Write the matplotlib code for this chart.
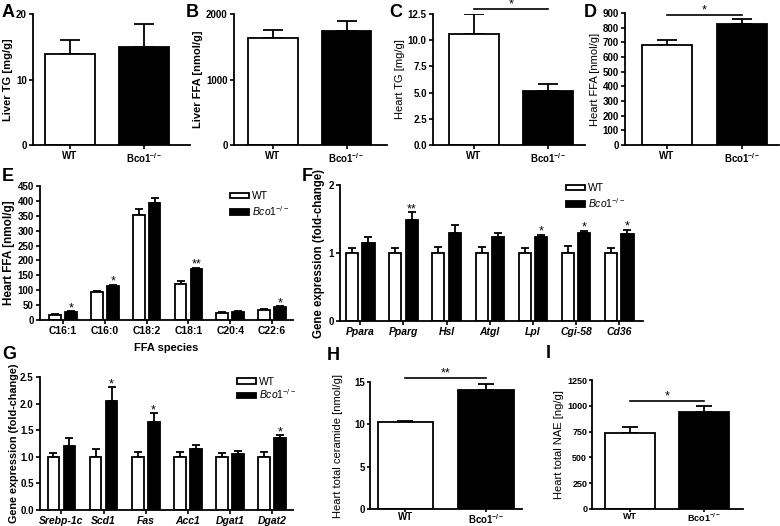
import matplotlib.pyplot as plt
from matplotlib.patches import Patch
import numpy as np

plt.rcParams['font.family'] = 'Liberation Sans'
plt.rcParams['mathtext.fontset'] = 'custom'
plt.rcParams['mathtext.rm'] = 'Liberation Sans'
plt.rcParams['mathtext.it'] = 'Liberation Sans:italic'
plt.rcParams['mathtext.bf'] = 'Liberation Sans:bold'

# ---- data (mean, SEM) ----
groups = ['WT', r'Bco1$^{\mathbf{-/-}}$']

liver_tg = [13.9, 15.0]
liver_tg_sem = [2.1, 3.5]
liver_ffa = [1635, 1745]
liver_ffa_sem = [115, 155]
heart_tg = [10.6, 5.2]
heart_tg_sem = [1.9, 0.63]
heart_ffa = [683, 827]
heart_ffa_sem = [30, 32]

ffa_species = ['C16:1', 'C16:0', 'C18:2', 'C18:1', 'C20:4', 'C22:6']
ffa_wt = [17, 95, 352, 122, 24, 33]
ffa_wt_sem = [3, 4, 20, 9, 3, 3]
ffa_ko = [28, 114, 393, 170, 28, 43]
ffa_ko_sem = [2, 5, 17, 5, 2, 4]
ffa_stars = ['*', '*', '', '**', '', '*']

lipo_genes = ['Ppara', 'Pparg', 'Hsl', 'Atgl', 'Lpl', 'Cgi-58', 'Cd36']
lipo_wt = [1.0, 1.0, 1.0, 1.0, 1.0, 1.0, 1.0]
lipo_wt_sem = [0.08, 0.07, 0.09, 0.09, 0.07, 0.11, 0.07]
lipo_ko = [1.14, 1.48, 1.30, 1.23, 1.23, 1.30, 1.28]
lipo_ko_sem = [0.09, 0.12, 0.11, 0.07, 0.04, 0.03, 0.06]
lipo_stars = ['', '**', '', '', '*', '*', '*']

lipogen_genes = ['Srebp-1c', 'Scd1', 'Fas', 'Acc1', 'Dgat1', 'Dgat2']
lipogen_wt = [1.0, 1.0, 1.0, 1.0, 1.0, 1.0]
lipogen_wt_sem = [0.075, 0.14, 0.09, 0.09, 0.075, 0.09]
lipogen_ko = [1.21, 2.05, 1.66, 1.14, 1.06, 1.35]
lipogen_ko_sem = [0.15, 0.26, 0.16, 0.09, 0.05, 0.06]
lipogen_stars = ['', '*', '*', '', '', '*']

ceramide = [10.3, 14.1]
ceramide_sem = [0.15, 0.7]
nae = [735, 942]
nae_sem = [55, 58]

W, H = 780, 526
fig = plt.figure(figsize=(7.8, 5.26), dpi=100)


def box(l, t, r, b):
    return fig.add_axes([l / W, 1 - b / H, (r - l) / W, (b - t) / H])


def style(ax, tsize=7, tlen=3, pad=1.5):
    for s in ['top', 'right']:
        ax.spines[s].set_visible(False)
    for s in ['left', 'bottom']:
        ax.spines[s].set_linewidth(1.3)
    ax.tick_params(direction='out', length=tlen, width=1.2, labelsize=tsize, pad=pad)
    for t in ax.get_yticklabels():
        t.set_fontweight('bold')


def two_bar(ax, vals, sems, ylim, yticks, ylabel, lab_bold, xlim, sig=None,
            cap=7, tsize=7, xsize=7, lsize=8, width=0.67, lpad=2, tlen=3, xpad=1.5):
    ax.bar([0, 1], vals, width=width, color=['white', 'black'], edgecolor='black',
           linewidth=1.3, zorder=2)
    ax.errorbar([0, 1], vals, yerr=[[0, 0], sems], fmt='none', ecolor='black',
                elinewidth=1.3, capsize=cap, capthick=1.3, zorder=1)
    ax.set_ylim(*ylim)
    ax.set_yticks(yticks)
    ax.set_xlim(*xlim)
    ax.set_xticks([0, 1])
    ax.set_xticklabels(groups, fontweight='bold', fontsize=xsize)
    ax.set_ylabel(ylabel, fontsize=lsize, fontweight='bold' if lab_bold else 'normal',
                  labelpad=lpad)
    style(ax, tsize, tlen)
    ax.tick_params(axis='x', pad=xpad)
    if sig is not None:
        y, star = sig
        ax.plot([0, 1], [y, y], color='black', lw=1.2, clip_on=False)
        ax.annotate(star, (0.5, y), xytext=(0, 7.5), textcoords='offset points',
                    ha='center', va='top', fontsize=9, annotation_clip=False)


def grouped(ax, labels, wt, wt_sem, ko, ko_sem, stars, ylim, yticks, ylabel, xlim,
            off=0.19, width=0.28, lsize=8.3, lpad=2):
    x = np.arange(len(labels))
    ax.bar(x - off, wt, width=width, color='white', edgecolor='black', linewidth=1.3, zorder=2)
    ax.bar(x + off, ko, width=width, color='black', edgecolor='black', linewidth=1.3, zorder=2)
    ax.errorbar(x - off, wt, yerr=[np.zeros(len(x)), wt_sem], fmt='none', ecolor='black',
                elinewidth=1.3, capsize=2.6, capthick=1.3, zorder=1)
    ax.errorbar(x + off, ko, yerr=[np.zeros(len(x)), ko_sem], fmt='none', ecolor='black',
                elinewidth=1.3, capsize=2.6, capthick=1.3, zorder=1)
    top = np.array(ko) + np.array(ko_sem)
    for xi, yi, s in zip(x, top, stars):
        if s:
            ax.annotate(s, (xi + off, yi), xytext=(0, 0), textcoords='offset points',
                        ha='center', va='baseline', fontsize=9, annotation_clip=False)
    ax.set_ylim(*ylim)
    ax.set_yticks(yticks)
    ax.set_xlim(*xlim)
    ax.set_xticks(x)
    ax.set_ylabel(ylabel, fontsize=lsize, fontweight='bold', labelpad=lpad)
    style(ax, 7)


def legend(ax, anchor, spacing=0.25):
    h = [Patch(facecolor='white', edgecolor='black', linewidth=1.3),
         Patch(facecolor='black', edgecolor='black', linewidth=1.3)]
    ax.legend(h, ['WT', r'$\mathit{Bco1}^{-/-}$'], loc='upper left', bbox_to_anchor=anchor,
              frameon=False, fontsize=7.5, handlelength=1.8, handleheight=0.45,
              handletextpad=0.3, labelspacing=spacing, borderpad=0)


# ---- row 1 ----
axA = box(33, 14, 190, 145)
two_bar(axA, liver_tg, liver_tg_sem, (0, 20), [0, 10, 20], 'Liver TG [mg/g]', True,
        (-0.5, 1.62))
axB = box(234, 14, 387, 145)
two_bar(axB, liver_ffa, liver_ffa_sem, (0, 2000), [0, 1000, 2000], 'Liver FFA [nmol/g]', True,
        (-0.53, 1.55))
axC = box(433, 14, 585, 145)
two_bar(axC, heart_tg, heart_tg_sem, (0, 12.5), np.arange(0, 12.6, 2.5), 'Heart TG [mg/g]',
        False, (-0.55, 1.5), sig=(12.95, '*'))
axC.set_yticklabels(['0.0', '2.5', '5.0', '7.5', '10.0', '12.5'])
axD = box(625, 13, 779, 145)
two_bar(axD, heart_ffa, heart_ffa_sem, (0, 900), np.arange(0, 901, 100), 'Heart FFA [nmol/g]',
        False, (-0.56, 1.49), sig=(888, '*'))

# ---- row 2 ----
axE = box(40, 186, 293, 320)
grouped(axE, ffa_species, ffa_wt, ffa_wt_sem, ffa_ko, ffa_ko_sem, ffa_stars, (0, 450),
        np.arange(0, 451, 50), 'Heart FFA [nmol/g]', (-0.55, 5.5), lsize=8.5)
axE.set_xticklabels(ffa_species, fontweight='bold', fontsize=7.5)
axE.set_xlabel('FFA species', fontsize=8, fontweight='bold', labelpad=5)
legend(axE, (0.73, 1.0))

axF = box(340, 185, 643, 321)
grouped(axF, lipo_genes, lipo_wt, lipo_wt_sem, lipo_ko, lipo_ko_sem, lipo_stars, (0, 2),
        [0, 1, 2], 'Gene expression (fold-change)', (-0.47, 6.55))
axF.set_xticklabels(lipo_genes, fontweight='bold', fontstyle='italic', fontsize=7.5)
legend(axF, (0.73, 1.05))

# ---- row 3 ----
axG = box(40, 377, 293, 510)
grouped(axG, lipogen_genes, lipogen_wt, lipogen_wt_sem, lipogen_ko, lipogen_ko_sem,
        lipogen_stars, (0, 2.5), np.arange(0, 2.51, 0.5), 'Gene expression (fold-change)',
        (-0.51, 5.5), lsize=7.8, lpad=1)
axG.set_yticklabels(['0.0', '0.5', '1.0', '1.5', '2.0', '2.5'])
axG.set_xticklabels(lipogen_genes, fontweight='bold', fontstyle='italic', fontsize=7.5)
legend(axG, (0.76, 1.04), spacing=0.05)

axH = box(370, 382, 522, 509)
two_bar(axH, ceramide, ceramide_sem, (0, 15), [0, 5, 10, 15],
        'Heart total ceramide [nmol/g]', False, (-0.44, 1.45), sig=(15.5, '**'),
        cap=6, tsize=7, xsize=6.3, lsize=8, width=0.69, lpad=8, tlen=2, xpad=0.2)
axI = box(592, 380, 743, 509)
two_bar(axI, nae, nae_sem, (0, 1250), np.arange(0, 1251, 250), 'Heart total NAE [ng/g]',
        False, (-0.51, 1.52), sig=(1048, '*'), cap=6, tsize=6.5, xsize=6.3, lsize=8,
        tlen=2, xpad=0.2)

# ---- panel letters ----
for letter, px, py in [('A', 2, 4), ('B', 186, 4), ('C', 389, 4), ('D', 584, 4),
                       ('E', 2, 168), ('F', 302, 168), ('G', 2, 346), ('H', 327, 347),
                       ('I', 546, 345)]:
    fig.text(px / W, 1 - py / H, letter, fontsize=13, fontweight='bold', va='top', ha='left')

fig.savefig('out.png', dpi=100)
